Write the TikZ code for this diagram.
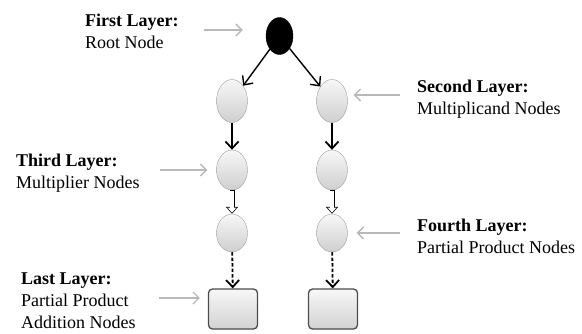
\documentclass[tikz,border=0pt]{standalone}
\usepackage{fontspec}
\setmainfont{Liberation Serif}
\usepackage{tikz}
\usetikzlibrary{arrows.meta,
                positioning,
                shapes.geometric}

\begin{document}
\begin{tikzpicture}[x=1pt,y=-1pt,
  oval/.style={ellipse,draw=gray!75,top color=gray!6,bottom color=gray!38,
               minimum width=31pt,minimum height=40pt,inner sep=0pt},
  rootnode/.style={ellipse,draw=black,fill=black,minimum width=27pt,minimum height=37pt,inner sep=0pt},
  addbox/.style={rectangle,rounded corners=4pt,draw=black!70,line width=1.3pt,
                 top color=gray!6,bottom color=gray!35,minimum width=49pt,minimum height=40pt},
  lbl/.style={anchor=base west,align=left,inner sep=0pt,font=\fontsize{18}{22}\selectfont},
  rootarr/.style={line width=1.4pt,-{Straight Barb[length=7pt,width=13pt]}},
  solidarr/.style={line width=1.8pt,-{Straight Barb[length=7pt,width=13pt]}},
  hollowarr/.style={line width=5pt,-{Triangle[length=7pt,width=12pt]},
                    postaction={draw=white,line width=3.2pt,shorten <=0.9pt,shorten >=1.1pt,
                                -{Triangle[length=5pt,width=8.5pt]}}},
  dasharr/.style={dashed,dash pattern=on 3.5pt off 2pt,line width=1.8pt,-{Straight Barb[length=7pt,width=13pt]}},
  pointer/.style={draw=gray!55,line width=1.3pt,-{Straight Barb[length=6pt,width=12pt]}}]
\useasboundingbox (0,0) rectangle (582,333);

% tree
\node[rootnode] (root) at (279.5,36) {};
\foreach \c/\x in {1/232,2/332}{
  \node[oval,minimum height=43pt] (mcand\c) at (\x,101) {};
  \node[oval] (mplier\c) at (\x,170) {};
  \node[oval,minimum height=38pt] (pprod\c) at (\x,233) {};
  \node[addbox] (padd\c) at (\x+1,309) {};
  \draw[rootarr] (root) -- (mcand\c);
  \draw[solidarr] (mcand\c) -- (mplier\c);
  \draw[hollowarr] (mplier\c) -- (pprod\c);
  \draw[dasharr] (pprod\c) -- (padd\c);
}

% layer labels (base = last line)
\node[lbl] (lfirst) at (85,48) {\textbf{First Layer:}\\Root Node};
\node[lbl] (lsecond) at (417,114) {\textbf{Second Layer:}\\Multiplicand Nodes};
\node[lbl] (lthird) at (16,188) {\textbf{Third Layer:}\\Multiplier Nodes};
\node[lbl] (lfourth) at (417,253) {\textbf{Fourth Layer:}\\Partial Product Nodes};
\node[lbl] (llast) at (21,328) {\textbf{Last Layer:}\\Partial Product\\Addition Nodes};

% pointers
\coordinate (t1) at (204,30);
\coordinate (t2) at (400,95);
\coordinate (t3) at (160,170);
\coordinate (t4) at (400,233);
\coordinate (t5) at (159,298);
\draw[pointer,shorten >=23pt] (t1) -- (t1 -| root.west);
\draw[pointer,shorten >=6pt] (t2) -- (t2 -| mcand2.east);
\draw[pointer,shorten >=9pt] (t3) -- (t3 -| mplier1.west);
\draw[pointer,shorten >=9pt] (t4) -- (t4 -| pprod2.east);
\draw[pointer,shorten >=8pt] (t5) -- (t5 -| padd1.west);
\end{tikzpicture}
\end{document}
